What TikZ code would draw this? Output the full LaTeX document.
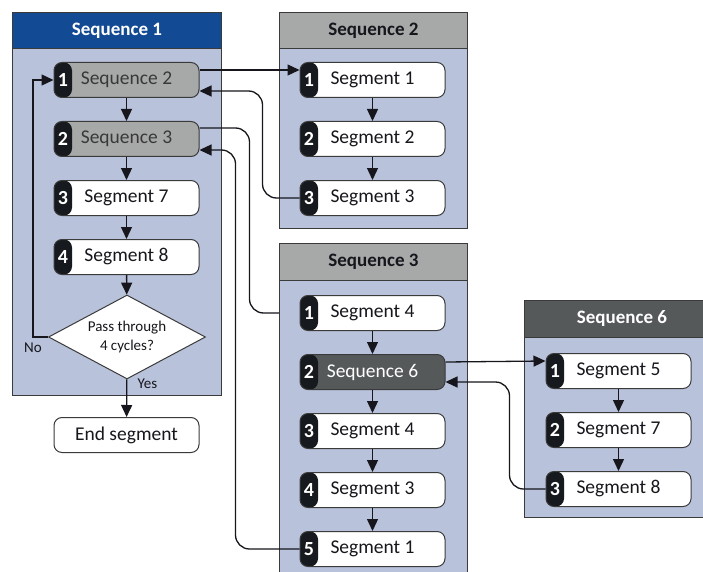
\documentclass[tikz,border=0pt]{standalone}
\usepackage{fontspec}
\setmainfont{Carlito}
\usepackage{tikz}
\usetikzlibrary{shapes.geometric, arrows.meta, positioning, calc}
\definecolor{panelblue}{HTML}{B8C3DB}
\definecolor{headblue}{HTML}{124A93}
\definecolor{headgray}{HTML}{A7A9A8}
\definecolor{headdark}{HTML}{55595A}
\definecolor{tabblack}{HTML}{16191D}
\definecolor{edgegray}{HTML}{3A3A3A}
\definecolor{inkdark}{HTML}{16161C}
\tikzset{
  panel/.style={rectangle, draw=edgegray, line width=1pt, fill=panelblue,
                anchor=north west, inner sep=0pt},
  header/.style={rectangle, draw=edgegray, line width=1pt, anchor=north west,
                 inner sep=0pt, font=\fontsize{19}{22}\selectfont\bfseries},
  box/.style={rectangle, draw=edgegray, line width=1pt, rounded corners=8pt,
              fill=white, minimum width=145pt, minimum height=35pt, inner sep=0pt,
              text=inkdark, font=\fontsize{19.5}{22}\selectfont},
  seg/.style={box, path picture={\fill[tabblack] (path picture bounding box.north west)
              rectangle ([xshift=18pt]path picture bounding box.south west);}},
  subseq/.style={seg, fill=headgray, text=black!78},
  subdark/.style={seg, fill=headdark, text=white},
  num/.style={label={[numlbl]west:#1}},
  numlbl/.style={anchor=center, xshift=9.5pt, text=white,
                 font=\fontsize{20}{22}\selectfont\bfseries},
  decision/.style={diamond, draw=edgegray, line width=1pt, fill=white, aspect=1.87,
                   minimum width=157pt, minimum height=84pt, inner sep=0pt,
                   align=center, text=inkdark, font=\fontsize{15}{19}\selectfont},
  lbl/.style={text=inkdark, font=\fontsize{15}{18}\selectfont},
  arrow/.style={-{Triangle[length=12pt,width=11pt]}, line width=1.3pt, draw=inkdark},
  link/.style={arrow, rounded corners=14pt},
  plainlink/.style={line width=1.3pt, draw=inkdark, rounded corners=14pt}
}
\begin{document}
\begin{tikzpicture}[x=1pt, y=-1pt]
  \useasboundingbox (0,0) rectangle (703,572);
  \clip (0,0) rectangle (703,572);

  % Panels
  \node[panel, minimum width=209pt, minimum height=383pt] (p1) at (12,12) {};
  \node[header, fill=headblue, text=white, minimum width=209pt, minimum height=36pt] (h1) at (12,12) {Sequence 1};
  \node[panel, minimum width=188pt, minimum height=216pt] (p2) at (279,12) {};
  \node[header, fill=headgray, text=inkdark, minimum width=188pt, minimum height=36pt] (h2) at (279,12) {Sequence 2};
  \node[panel, minimum width=188pt, minimum height=345pt] (p3) at (279,243) {};
  \node[header, fill=headgray, text=inkdark, minimum width=188pt, minimum height=37pt] (h3) at (279,243) {Sequence 3};
  \node[panel, minimum width=195pt, minimum height=217pt] (p6) at (524,300) {};
  \node[header, fill=headdark, text=white, minimum width=195pt, minimum height=37pt] (h6) at (524,300) {Sequence 6};

  % Sequence 1
  \node[subseq, num=1] (s1a) at (126.5,80) {Sequence 2};
  \node[subseq, num=2, below=23pt of s1a] (s1b) {Sequence 3};
  \node[seg, num=3, below=23pt of s1b] (s1c) {Segment 7};
  \node[seg, num=4, below=23pt of s1c] (s1d) {Segment 8};
  \node[decision] (dec) at (127,337) {Pass through\\4 cycles?};
  \node[box] (endseg) at (126.5,435) {End segment};

  % Sequence 2
  \node[seg, num=1] (s2a) at (372.5,80) {Segment 1};
  \node[seg, num=2, below=23pt of s2a] (s2b) {Segment 2};
  \node[seg, num=3, below=23pt of s2b] (s2c) {Segment 3};

  % Sequence 3
  \node[seg, num=1] (s3a) at (372.5,313) {Segment 4};
  \node[subdark, num=2, below=23pt of s3a] (s3b) {Sequence 6};
  \node[seg, num=3, below=23pt of s3b] (s3c) {Segment 4};
  \node[seg, num=4, below=23pt of s3c] (s3d) {Segment 3};
  \node[seg, num=5, below=23pt of s3d] (s3e) {Segment 1};

  % Sequence 6
  \node[seg, num=1] (s6a) at (618.5,371) {Segment 5};
  \node[seg, num=2, below=23pt of s6a] (s6b) {Segment 7};
  \node[seg, num=3, below=23pt of s6b] (s6c) {Segment 8};

  % Steps inside each sequence
  \draw[arrow] (s1a) -- (s1b);
  \draw[arrow] (s1b) -- (s1c);
  \draw[arrow] (s1c) -- (s1d);
  \draw[arrow] (s1d) -- (dec);
  \draw[arrow] (dec) -- node[lbl, pos=0.12, anchor=west, xshift=7pt] (yeslbl) {Yes} (endseg);
  \draw[arrow] (dec.west) -- ++(-15,0) coordinate (nocorner) |- (s1a.west);
  \node[lbl, below=2pt of nocorner] (nolbl) {No};
  \draw[arrow] (s2a) -- (s2b);
  \draw[arrow] (s2b) -- (s2c);
  \draw[arrow] (s3a) -- (s3b);
  \draw[arrow] (s3b) -- (s3c);
  \draw[arrow] (s3c) -- (s3d);
  \draw[arrow] (s3d) -- (s3e);
  \draw[arrow] (s6a) -- (s6b);
  \draw[arrow] (s6b) -- (s6c);

  % Calls between sequences
  \draw[arrow] ([yshift=10pt]s1a.east) -- ([yshift=10pt]s2a.west);
  \draw[link] (s2c.west) -- ++(-37,0) |- ([yshift=-11pt]s1a.east);
  \draw[plainlink] ([yshift=11pt]s1b.east) -- ++(50,0) |- (s3a.west -| p3.west);
  \draw[link] (s3e.west) -- ++(-64,0) |- ([yshift=-11pt]s1b.east);
  \draw[arrow] ([yshift=10pt]s3b.east) -- ([yshift=10pt]s6a.west);
  \draw[link] (s6c.west) -- ++(-36,0) |- ([yshift=-10pt]s3b.east);
\end{tikzpicture}
\end{document}
